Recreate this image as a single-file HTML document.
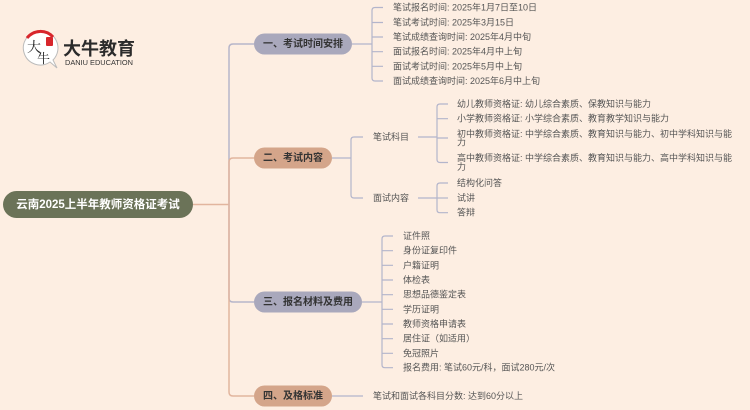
<!DOCTYPE html>
<html><head><meta charset="utf-8"><style>
html,body{margin:0;padding:0;background:#fdeee2;}
svg{display:block;}
text{font-family:"Liberation Sans","Noto Sans CJK SC",sans-serif;}
.c{font-size:9px;fill:#555;dominant-baseline:central;}
.b{font-size:10px;font-weight:bold;fill:#333;dominant-baseline:central;}
</style></head><body>
<svg width="750" height="410" viewBox="0 0 750 410" xmlns="http://www.w3.org/2000/svg">
<rect width="750" height="410" fill="#fdeee2"/>
<!-- logo -->
<g>
<path d="M40,31 A17,17 0 1 0 50,62 L57,68 L53,60 A17,17 0 0 0 40,31 Z" fill="#fff" stroke="#bbb" stroke-width="1"/>
<path d="M27,38 A17,17 0 0 1 53,37" fill="none" stroke="#d8262c" stroke-width="3"/>
<rect x="46" y="37" width="7" height="9" rx="1" fill="#d8262c"/>
<text x="27" y="52" style="font-size:14px;font-family:'Liberation Serif','Noto Serif CJK SC',serif;fill:#222;">大</text>
<text x="37" y="63" style="font-size:13px;font-family:'Liberation Serif','Noto Serif CJK SC',serif;fill:#222;">牛</text>
<text x="63" y="55" style="font-size:18px;font-weight:bold;fill:#2b2b2b;">大牛教育</text>
<text x="65" y="65" style="font-size:7px;fill:#333;" textLength="68" lengthAdjust="spacingAndGlyphs">DANIU EDUCATION</text>
</g>

<!-- main connectors -->
<g fill="none" stroke-width="1.5">
<path d="M193,204.5 H229" stroke="#e2b59e"/>
<path d="M229,204.5 V48 Q229,44 233,44 H254" stroke="#b6b5c9"/>
<path d="M229,204.5 V162 Q229,158 233,158 H254" stroke="#e2b59e"/>
<path d="M229,204.5 V298 Q229,302 233,302 H254" stroke="#b6b5c9"/>
<path d="M229,204.5 V392 Q229,396 233,396 H254" stroke="#e2b59e"/>
</g>

<!-- sub connectors -->
<g fill="none" stroke="#b3b5cb" stroke-width="1.2">
<!-- branch 1 -->
<path d="M352,44 H372"/>
<path d="M383,7.5 H375 Q372,7.5 372,10.5 V78 Q372,81 375,81 H383"/>
<path d="M372,22.5 H383 M372,37 H383 M372,51.7 H383 M372,66.3 H383"/>
<!-- branch 2 -->
<path d="M332,158 H351"/>
<path d="M363,137 H354 Q351,137 351,140 V195 Q351,198 354,198 H363"/>
<path d="M418,137 H437"/>
<path d="M448,104 H440 Q437,104 437,107 V159.5 Q437,162.5 440,162.5 H448"/>
<path d="M437,118.7 H448 M437,138 H448"/>
<path d="M418,198 H437"/>
<path d="M448,183 H440 Q437,183 437,186 V209.7 Q437,212.7 440,212.7 H448"/>
<path d="M437,198 H448"/>
<!-- branch 3 -->
<path d="M362,302 H382"/>
<path d="M393,236 H385 Q382,236 382,239 V364.7 Q382,367.7 385,367.7 H393"/>
<path d="M382,250.7 H393 M382,265.3 H393 M382,280 H393 M382,294.7 H393 M382,309.3 H393 M382,324 H393 M382,338.7 H393 M382,353.3 H393"/>
<!-- branch 4 -->
<path d="M332,396 H363"/>
</g>

<!-- root -->
<rect x="3" y="191" width="190" height="27" rx="13.5" fill="#6b7358"/>
<text x="98" y="205" text-anchor="middle" style="font-size:11.5px;font-weight:bold;fill:#fff;dominant-baseline:central;">云南2025上半年教师资格证考试</text>

<!-- branch nodes -->
<rect x="254" y="33.5" width="98" height="21" rx="10.5" fill="#a9a8bc"/>
<text class="b" x="303" y="44.5" text-anchor="middle">一、考试时间安排</text>
<rect x="254" y="147.5" width="78" height="21" rx="10.5" fill="#d4a58a"/>
<text class="b" x="293" y="158.5" text-anchor="middle">二、考试内容</text>
<rect x="254" y="291.5" width="108" height="21" rx="10.5" fill="#a9a8bc"/>
<text class="b" x="308" y="302.5" text-anchor="middle">三、报名材料及费用</text>
<rect x="254" y="385.5" width="78" height="21" rx="10.5" fill="#d4a58a"/>
<text class="b" x="293" y="396.5" text-anchor="middle">四、及格标准</text>

<!-- branch 1 leaves -->
<text class="c" x="393" y="7.5">笔试报名时间: 2025年1月7日至10日</text>
<text class="c" x="393" y="22.5">笔试考试时间: 2025年3月15日</text>
<text class="c" x="393" y="37">笔试成绩查询时间: 2025年4月中旬</text>
<text class="c" x="393" y="51.7">面试报名时间: 2025年4月中上旬</text>
<text class="c" x="393" y="66.3">面试考试时间: 2025年5月中上旬</text>
<text class="c" x="393" y="81">面试成绩查询时间: 2025年6月中上旬</text>

<!-- branch 2 -->
<text class="c" x="373" y="137">笔试科目</text>
<text class="c" x="373" y="198">面试内容</text>
<text class="c" x="457" y="104">幼儿教师资格证: 幼儿综合素质、保教知识与能力</text>
<text class="c" x="457" y="118.7">小学教师资格证: 小学综合素质、教育教学知识与能力</text>
<text class="c" x="457" y="134">初中教师资格证: 中学综合素质、教育知识与能力、初中学科知识与能</text>
<text class="c" x="457" y="142.7">力</text>
<text class="c" x="457" y="158">高中教师资格证: 中学综合素质、教育知识与能力、高中学科知识与能</text>
<text class="c" x="457" y="167">力</text>
<text class="c" x="457" y="183">结构化问答</text>
<text class="c" x="457" y="198">试讲</text>
<text class="c" x="457" y="212.7">答辩</text>

<!-- branch 3 -->
<text class="c" x="403" y="236">证件照</text>
<text class="c" x="403" y="250.7">身份证复印件</text>
<text class="c" x="403" y="265.3">户籍证明</text>
<text class="c" x="403" y="280">体检表</text>
<text class="c" x="403" y="294.7">思想品德鉴定表</text>
<text class="c" x="403" y="309.3">学历证明</text>
<text class="c" x="403" y="324">教师资格申请表</text>
<text class="c" x="403" y="338.7">居住证（如适用）</text>
<text class="c" x="403" y="353.3">免冠照片</text>
<text class="c" x="403" y="367.7">报名费用: 笔试60元/科，面试280元/次</text>

<!-- branch 4 -->
<text class="c" x="373" y="396">笔试和面试各科目分数: 达到60分以上</text>
</svg>
</body></html>
